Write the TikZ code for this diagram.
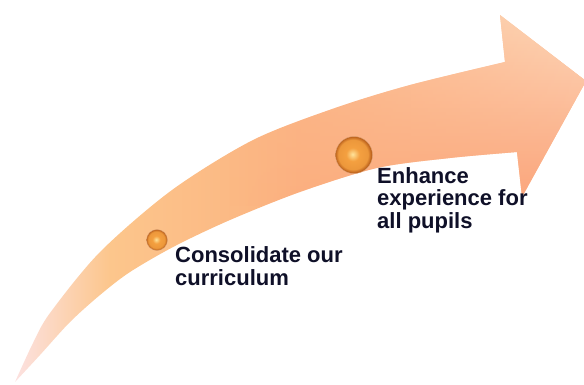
\documentclass[tikz,border=0pt]{standalone}
\usepackage{fontspec}
\usepackage{tikz}
\usetikzlibrary{positioning,fadings}
\newfontfamily\pathfont{Liberation Sans}

\definecolor{tailpink}{HTML}{FCE6EE}
\definecolor{peachB}{HTML}{FCC68C}
\definecolor{salmonC}{HTML}{FBB280}
\definecolor{headtop}{HTML}{FDD9BC}
\definecolor{headmid}{HTML}{FDC895}
\definecolor{headbot}{HTML}{FCA27A}
\definecolor{orbhi}{HTML}{FFE39A}
\definecolor{orbmid}{HTML}{F4A040}
\definecolor{orbrim}{HTML}{C0661F}
\definecolor{captionink}{HTML}{0F1028}

\pgfdeclareradialshading{orbshade}{\pgfpoint{-2bp}{1bp}}{%
  color(0bp)=(orbhi); color(9bp)=(orbmid); color(20bp)=(orbmid!85!orbrim);
  color(24bp)=(orbrim); color(25bp)=(orbrim); color(50bp)=(orbrim)}
\tikzfading[name=fadein, left color=transparent!100, right color=transparent!0]

\begin{document}
\begin{tikzpicture}[
    x=1pt, y=-1pt,
    orb/.style={circle, inner sep=0pt, shade, shading=orbshade, draw=orbrim!60, line width=0.3pt},
    caption/.style={font=\pathfont\bfseries\fontsize{22}{22.5}\selectfont, text=captionink, align=left, inner sep=0pt, anchor=base west}
]
\useasboundingbox (0,0) rectangle (584,384);

% curved arrow
\begin{scope}
  \clip plot[smooth] coordinates {(15,382) (33,343) (50,313) (100,252) (172,190) (253,140) (335,108) (410,85) (505,62)}
    -- (500,15) -- (586,81) -- (522,197) -- (517,152)
    -- plot[smooth] coordinates {(517,152) (450,158) (377,168) (300,192) (230,220) (175,246) (130,272) (100,295) (70,322) (40,355) (15,382)}
    -- cycle;
  \shade[left color=tailpink, right color=peachB] (0,0) rectangle (110,384);
  \shade[left color=peachB, right color=salmonC] (110,0) rectangle (300,384);
  \fill[salmonC] (300,0) rectangle (590,384);
  \shade[top color=headtop, middle color=headmid, bottom color=headbot, path fading=fadein] (230,10) rectangle (590,205);
\end{scope}

% milestones
\node[orb, minimum size=21pt] (orbA) at (157,240) {};
\node[orb, minimum size=37pt] (orbB) at (354,155) {};

% base anchor sits on the last line
\node[caption] (consolidate) at (175,285) {Consolidate our\\curriculum};
\node[caption] (enhance) at (377,228) {Enhance\\experience for\\all pupils};
\end{tikzpicture}
\end{document}
